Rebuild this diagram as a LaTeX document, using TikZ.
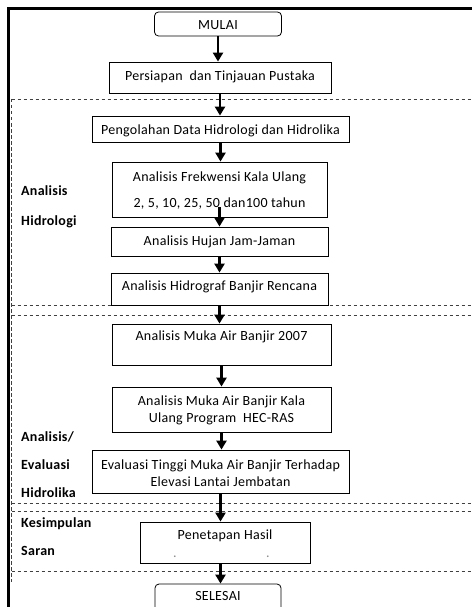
\documentclass[tikz,border=0pt]{standalone}
\usepackage{fontspec}
\setmainfont{Carlito}
\newfontfamily\boxfont[LetterSpace=2]{Carlito}
\usetikzlibrary{arrows.meta}
\begin{document}
\begin{tikzpicture}[x=1pt,y=-1pt,
  box/.style={draw, line width=0.8pt, inner sep=0pt},
  rbox/.style={box, rounded corners=4pt},
  txt/.style={inner sep=0pt, anchor=base, font=\boxfont\fontsize{14}{16}\selectfont},
  lbl/.style={inner sep=0pt, anchor=base west, font=\boxfont\fontsize{14}{16}\selectfont\bfseries},
  flow/.style={line width=2.8pt, -{Triangle[width=10pt,length=9pt]}},
  divider/.style={line width=0.8pt, black!75, dash pattern=on 3.5pt off 2.5pt},
  frame/.style={line width=2.7pt, line join=miter}]
\useasboundingbox (0,0) rectangle (472,607);
% frame
\draw[frame] (8.7,607) -- (8.7,8.7) -- (472,8.7);
% section dividers
\draw[divider] (11.7,99) -- (11.7,582);
\foreach \yy in {99,305,315,503,511.7,571.7}
  \draw[divider] (11.7,\yy) -- (472,\yy);
% boxes
\node[rbox, minimum width=127pt, minimum height=24pt] (mulai) at (218,24) {};
\node[box, minimum width=222pt, minimum height=31pt] (persiapan) at (220,77.5) {};
\node[box, minimum width=257pt, minimum height=26pt] (pengolahan) at (220.5,129) {};
\node[box, minimum width=215pt, minimum height=55pt] (frek) at (219.5,189.5) {};
\node[box, minimum width=217pt, minimum height=29pt] (hujan) at (219.5,241.5) {};
\node[box, minimum width=217pt, minimum height=32pt] (hidrograf) at (219.5,289) {};
\node[box, minimum width=219pt, minimum height=41pt] (muka) at (221.5,344.5) {};
\node[box, minimum width=219pt, minimum height=45pt] (hecras) at (221.5,409.5) {};
\node[box, minimum width=257pt, minimum height=43pt] (evaluasi) at (220.5,471.5) {};
\node[box, minimum width=170pt, minimum height=41pt] (penetapan) at (225,542.5) {};
\node[rbox, minimum width=126pt, minimum height=36pt] (selesai) at (218,602) {};
% box texts
\node[txt] (tmulai) at (218,29.5) {MULAI};
\node[txt] (tpersiapan) at (220,81) {Persiapan\ \ dan Tinjauan Pustaka};
\node[txt] (tpengolahan) at (220.5,134) {Pengolahan Data Hidrologi dan Hidrolika};
\node[txt] (tfrek1) at (219.5,181) {Analisis Frekwensi Kala Ulang};
\node[txt] (tfrek2) at (219.5,207) {2, 5, 10, 25, 50 dan100 tahun};
\node[txt] (thujan) at (219.5,245) {Analisis Hujan Jam-Jaman};
\node[txt] (thidrograf) at (219.5,290.7) {Analisis Hidrograf Banjir Rencana};
\node[txt] (tmuka) at (221.5,340.7) {Analisis Muka Air Banjir 2007};
\node[txt] (thec1) at (221.5,405) {Analisis Muka Air Banjir Kala};
\node[txt] (thec2) at (221.5,422.7) {Ulang Program\ \ HEC-RAS};
\node[txt] (teva1) at (220.5,469.3) {Evaluasi Tinggi Muka Air Banjir Terhadap};
\node[txt] (teva2) at (220.5,486) {Elevasi Lantai Jembatan};
\node[txt] (tpenetapan) at (225,539.3) {Penetapan Hasil};
\node[txt, black!45] (tdot1) at (175,557.7) {.};
\node[txt, black!45] (tdot2) at (268,557.7) {.};
\node[txt] (tselesai) at (218,600.7) {SELESAI};
% section labels
\node[lbl] (l1) at (21,195) {Analisis};
\node[lbl] (l2) at (21,225) {Hidrologi};
\node[lbl] (l3) at (21,441.7) {Analisis/};
\node[lbl] (l4) at (21,469.3) {Evaluasi};
\node[lbl] (l5) at (21,497.3) {Hidrolika};
\node[lbl] (l6) at (21,527.7) {Kesimpulan};
\node[lbl] (l7) at (21,555.3) {Saran};
% arrows
\draw[flow] (mulai.south) -- (mulai.south |- persiapan.north);
\draw[flow] (persiapan.south) -- (persiapan.south |- pengolahan.north);
\draw[flow] (pengolahan.south) -- (pengolahan.south |- frek.north);
\draw[flow] ([yshift=10pt]frek.south) -- (frek.south |- hujan.north);
\draw[flow] (hujan.south) -- (hujan.south |- hidrograf.north);
\draw[flow] (hidrograf.south) -- (hidrograf.south |- muka.north);
\draw[flow] (muka.south) -- (muka.south |- hecras.north);
\draw[flow] (hecras.south) -- (hecras.south |- evaluasi.north);
\draw[flow] (evaluasi.south) -- (evaluasi.south |- penetapan.north);
\draw[flow] (penetapan.south -| evaluasi.south) -- (evaluasi.south |- selesai.north);
\end{tikzpicture}
\end{document}
